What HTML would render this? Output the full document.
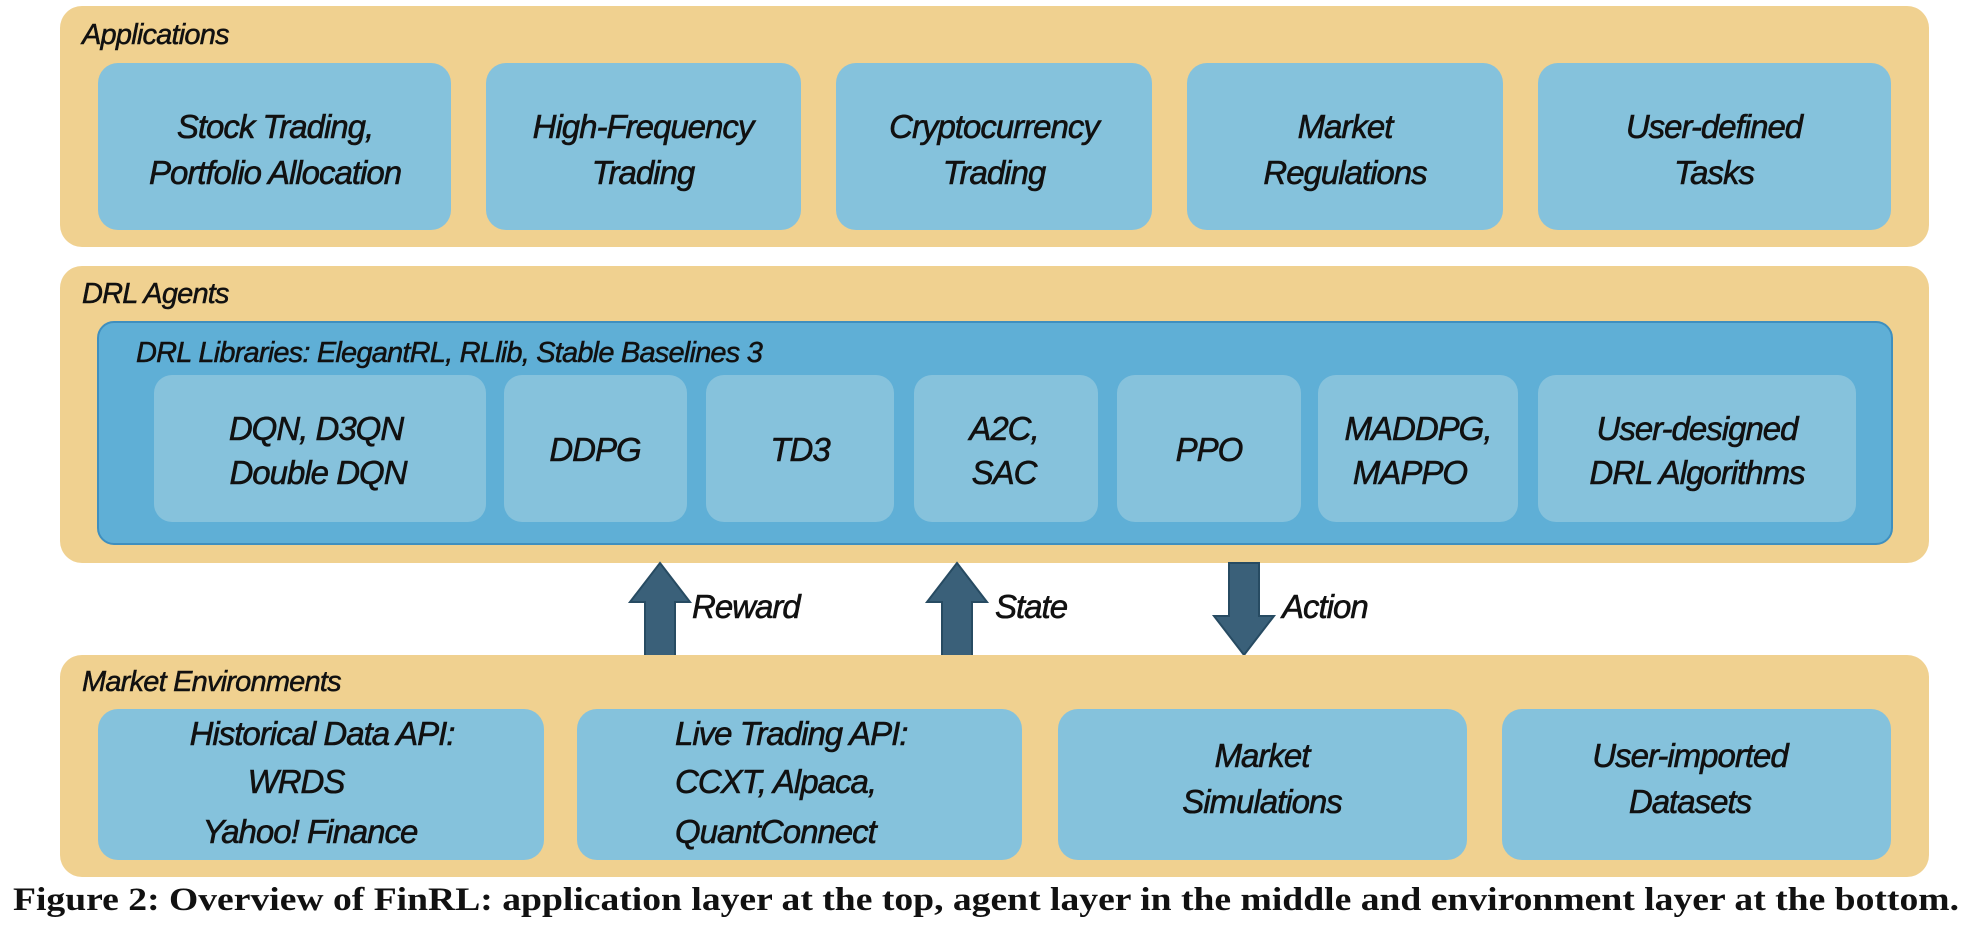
<!DOCTYPE html>
<html><head><meta charset="utf-8"><style>
html,body{margin:0;padding:0;background:#fff;}
svg{display:block;}
.t{font-family:"Liberation Sans",sans-serif;font-style:italic;font-size:33px;fill:#111;stroke:#111;stroke-width:0.6px;letter-spacing:-1px;}
.h{font-family:"Liberation Sans",sans-serif;font-style:italic;font-size:29px;fill:#111;stroke:#111;stroke-width:0.5px;letter-spacing:-0.8px;}
.c{font-family:"Liberation Serif",serif;font-weight:bold;font-size:33px;fill:#111;}
</style></head><body>
<svg width="1974" height="934" viewBox="0 0 1974 934" xmlns="http://www.w3.org/2000/svg">
<!-- Applications -->
<rect x="60" y="6" width="1869" height="241" rx="22" fill="#F0D190"/>
<text class="h" x="82" y="44">Applications</text>
<g fill="#85C2DC">
<rect x="98" y="63" width="353" height="167" rx="20"/>
<rect x="486" y="63" width="315" height="167" rx="20"/>
<rect x="836" y="63" width="316" height="167" rx="20"/>
<rect x="1187" y="63" width="316" height="167" rx="20"/>
<rect x="1538" y="63" width="353" height="167" rx="20"/>
</g>
<g class="t" text-anchor="middle">
<text x="275" y="138">Stock Trading,</text><text x="275" y="184">Portfolio Allocation</text>
<text x="643" y="138">High-Frequency</text><text x="643" y="184">Trading</text>
<text x="994" y="138">Cryptocurrency</text><text x="994" y="184">Trading</text>
<text x="1345" y="138">Market</text><text x="1345" y="184">Regulations</text>
<text x="1714" y="138">User-defined</text><text x="1714" y="184">Tasks</text>
</g>
<!-- DRL Agents -->
<rect x="60" y="266" width="1869" height="297" rx="22" fill="#F0D190"/>
<text class="h" x="82" y="303">DRL Agents</text>
<rect x="98" y="322" width="1794" height="222" rx="16" fill="#5FAFD6" stroke="#3F8FBF" stroke-width="2"/>
<text class="h" x="136" y="362">DRL Libraries: ElegantRL, RLlib, Stable Baselines 3</text>
<g fill="#86C2DC">
<rect x="154" y="375" width="332" height="147" rx="18"/>
<rect x="504" y="375" width="183" height="147" rx="18"/>
<rect x="706" y="375" width="188" height="147" rx="18"/>
<rect x="914" y="375" width="184" height="147" rx="18"/>
<rect x="1117" y="375" width="184" height="147" rx="18"/>
<rect x="1318" y="375" width="200" height="147" rx="18"/>
<rect x="1538" y="375" width="318" height="147" rx="18"/>
</g>
<g class="t" text-anchor="middle">
<text x="316" y="440">DQN, D3QN</text><text x="318" y="484">Double DQN</text>
<text x="595" y="461">DDPG</text>
<text x="800" y="461">TD3</text>
<text x="1004" y="440">A2C,</text><text x="1004" y="484">SAC</text>
<text x="1209" y="461">PPO</text>
<text x="1418" y="440">MADDPG,</text><text x="1410" y="484">MAPPO</text>
<text x="1697" y="440">User-designed</text><text x="1697" y="484">DRL Algorithms</text>
</g>
<!-- Arrows -->
<g fill="#3A6079" stroke="#274B62" stroke-width="2">
<polygon points="660,563 690,602 675,602 675,656 645,656 645,602 630,602"/>
<polygon points="957,563 987,602 972,602 972,656 942,656 942,602 927,602"/>
<polygon points="1244,655 1274,616 1259,616 1259,563 1229,563 1229,616 1214,616"/>
</g>
<g class="t">
<text x="692" y="618">Reward</text>
<text x="995" y="618">State</text>
<text x="1282" y="618">Action</text>
</g>
<!-- Market Environments -->
<rect x="60" y="655" width="1869" height="222" rx="22" fill="#F0D190"/>
<text class="h" x="82" y="691">Market Environments</text>
<g fill="#85C2DC">
<rect x="98" y="709" width="446" height="151" rx="20"/>
<rect x="577" y="709" width="445" height="151" rx="20"/>
<rect x="1058" y="709" width="409" height="151" rx="20"/>
<rect x="1502" y="709" width="389" height="151" rx="20"/>
</g>
<g class="t" text-anchor="middle">
<text x="322" y="745">Historical Data API:</text>
<text x="296" y="793">WRDS</text>
<text x="310" y="843">Yahoo! Finance</text>
<text x="1262" y="767">Market</text><text x="1262" y="813">Simulations</text>
<text x="1690" y="767">User-imported</text><text x="1690" y="813">Datasets</text>
</g>
<g class="t">
<text x="675" y="745">Live Trading API:</text>
<text x="675" y="793">CCXT, Alpaca,</text>
<text x="675" y="843">QuantConnect</text>
</g>
<text class="c" x="13" y="910" textLength="1946" lengthAdjust="spacingAndGlyphs">Figure 2: Overview of FinRL: application layer at the top, agent layer in the middle and environment layer at the bottom.</text>
</svg>
</body></html>
